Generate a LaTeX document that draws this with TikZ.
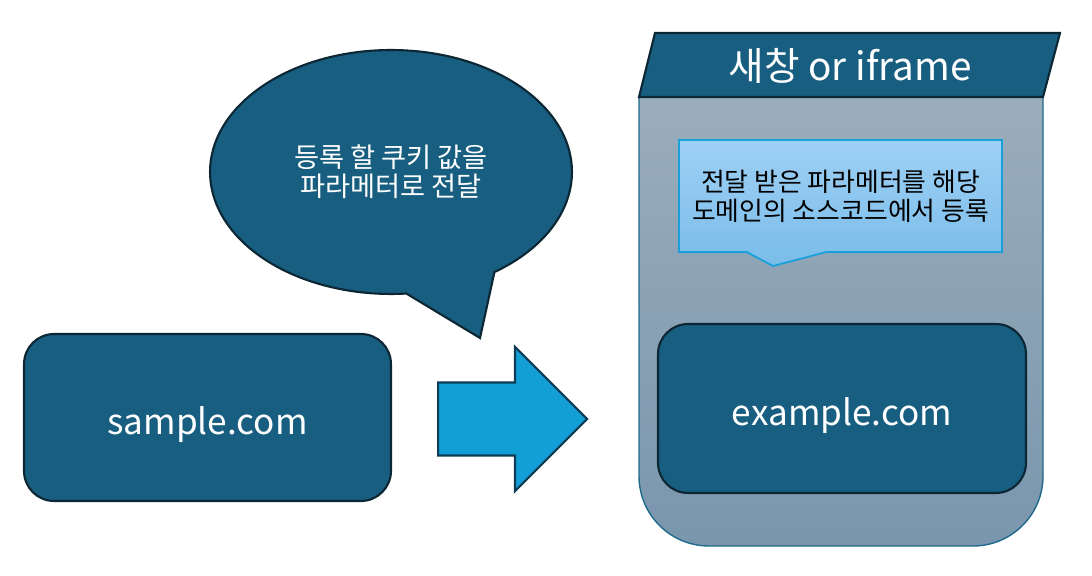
\documentclass[tikz,border=0pt]{standalone}
\usepackage{fontspec}
\setmainfont{Noto Sans CJK KR}
\usetikzlibrary{shapes.geometric, shapes.arrows, shapes.callouts}

\definecolor{sitefill}{RGB}{23,94,128}
\definecolor{siteline}{RGB}{12,38,52}
\definecolor{arrowfill}{RGB}{18,159,214}
\definecolor{arrowline}{RGB}{12,60,85}
\definecolor{wintop}{RGB}{154,173,188}
\definecolor{winbottom}{RGB}{122,150,173}
\definecolor{winline}{RGB}{31,106,140}
\definecolor{notetop}{RGB}{158,208,245}
\definecolor{notebottom}{RGB}{122,188,233}
\definecolor{noteline}{RGB}{25,160,216}

\begin{document}
\begin{tikzpicture}[
    x=0.02cm, y=0.02cm,
    sitebox/.style={rectangle, draw=siteline, line width=1.2pt, fill=sitefill, rounded corners=0.6cm, text=white, text height=0.8cm, text depth=0.1cm, font=\fontsize{20}{24}\selectfont},
    bubble/.style={ellipse callout, draw=siteline, line width=1.2pt, fill=sitefill, text=white, align=center, callout pointer arc=30, font=\fontsize{15.5}{16.5}\selectfont},
    flowarrow/.style={single arrow, draw=arrowline, line width=1.2pt, fill=arrowfill, single arrow head extend=0.71cm, single arrow head indent=0pt, inner xsep=0pt, inner ysep=0.71cm},
    windowbody/.style={draw=winline, line width=0.8pt, top color=wintop, bottom color=winbottom, rounded corners=1.4cm},
    titlebar/.style={draw=siteline, line width=1.2pt, fill=sitefill},
    note/.style={rectangle callout, draw=noteline, line width=1pt, top color=notetop, bottom color=notebottom, align=center, callout pointer width=1.6cm, font=\fontsize{14.7}{16.5}\selectfont}
]
\useasboundingbox (0,0) rectangle (1092,575);

% ============ LEFT SIDE ============
\node[sitebox, minimum width=7.34cm, minimum height=3.34cm] (sample) at (207.5,157.5) {sample.com};

\node[bubble, minimum width=7.24cm, minimum height=4.88cm, callout absolute pointer={(480,237)}] (bubble) at (391,403) {등록 할 쿠키 값을\\파라메터로 전달};

\node[flowarrow, minimum height=2.98cm, anchor=tail] (push) at (437,156) {};

% ============ NEW WINDOW ============
\path[windowbody] (639,478) -- (639,29) -- (1043,29) -- (1043,478);

\draw[titlebar] (639,478) -- (655,542) -- (1060,542) -- (1043,478) -- cycle;
\node[text=white, font=\fontsize{22}{26}\selectfont] (title) at (850,509) {새창 or iframe};

\node[note, minimum width=6.46cm, minimum height=2.24cm, callout absolute pointer={(773,309)}] (note) at (840.5,379) {전달 받은 파라메터를 해당\\도메인의 소스코드에서 등록};

\node[sitebox, minimum width=7.36cm, minimum height=3.38cm] (example) at (842,166.5) {example.com};

\end{tikzpicture}
\end{document}
